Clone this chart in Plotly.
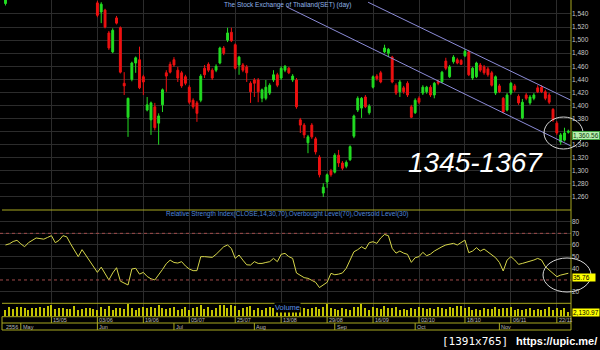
import plotly.graph_objects as go

# ---------------- data ----------------
open_ = [1556, 1568, 1578, 1590, 1598, 1585, 1575, 1594, 1606, 1618, 1612, 1610, 1628, 1640, 1620, 1630, 1646, 1638, 1612, 1594,
         1580, 1598, 1586, 1574, 1557, 1543, 1546, 1511, 1482, 1534, 1519, 1434, 1382, 1440, 1465, 1470, 1444, 1393, 1378, 1398,
         1373, 1401, 1450, 1463, 1470, 1454, 1450, 1444, 1428, 1408, 1404, 1408, 1457, 1463, 1454, 1454, 1465, 1488, 1500, 1512,
         1493, 1462, 1462, 1459, 1434, 1439, 1439, 1411, 1411, 1419, 1439, 1447, 1442, 1454, 1457, 1439, 1439, 1378, 1370, 1343,
         1370, 1349, 1321, 1266, 1283, 1300, 1298, 1324, 1312, 1307, 1317, 1353, 1393, 1396, 1413, 1389, 1428, 1445, 1450, 1482,
         1480, 1474, 1431, 1421, 1427, 1434, 1398, 1389, 1411, 1419, 1421, 1428, 1416, 1437, 1436, 1468, 1444, 1467, 1470, 1469,
         1476, 1482, 1442, 1444, 1462, 1459, 1456, 1450, 1419, 1430, 1411, 1393, 1419, 1430, 1414, 1381, 1416, 1404, 1411, 1427,
         1428, 1421, 1416, 1394, 1373, 1344, 1347, 1359]
high = [1570, 1582, 1595, 1602, 1600, 1590, 1598, 1610, 1622, 1625, 1620, 1632, 1645, 1648, 1636, 1650, 1652, 1640, 1616, 1600,
        1604, 1600, 1590, 1580, 1560, 1558, 1548, 1514, 1518, 1537, 1521, 1451, 1412, 1467, 1475, 1490, 1447, 1413, 1406, 1404,
        1388, 1426, 1454, 1467, 1474, 1459, 1453, 1447, 1431, 1411, 1407, 1448, 1462, 1466, 1457, 1463, 1490, 1491, 1519, 1519,
        1495, 1476, 1465, 1462, 1437, 1442, 1442, 1426, 1439, 1434, 1454, 1450, 1460, 1462, 1459, 1448, 1442, 1381, 1373, 1355,
        1373, 1352, 1324, 1281, 1296, 1303, 1327, 1332, 1315, 1316, 1339, 1386, 1414, 1413, 1416, 1402, 1446, 1448, 1453, 1493,
        1488, 1476, 1434, 1439, 1430, 1437, 1401, 1411, 1414, 1431, 1430, 1431, 1436, 1439, 1453, 1473, 1462, 1477, 1473, 1471,
        1486, 1485, 1459, 1467, 1465, 1462, 1459, 1453, 1446, 1433, 1413, 1419, 1436, 1433, 1417, 1410, 1419, 1416, 1419, 1431,
        1431, 1424, 1419, 1396, 1376, 1358, 1366, 1363]
low = [1553, 1565, 1574, 1582, 1580, 1570, 1572, 1590, 1600, 1606, 1602, 1608, 1622, 1615, 1614, 1626, 1630, 1608, 1590, 1575,
       1578, 1582, 1570, 1566, 1535, 1526, 1518, 1485, 1480, 1524, 1449, 1416, 1352, 1437, 1450, 1425, 1416, 1391, 1355, 1362,
       1340, 1390, 1421, 1449, 1459, 1436, 1427, 1431, 1402, 1395, 1375, 1405, 1442, 1451, 1439, 1451, 1463, 1477, 1497, 1497,
       1455, 1447, 1451, 1436, 1404, 1413, 1405, 1405, 1408, 1416, 1436, 1428, 1439, 1451, 1448, 1436, 1395, 1358, 1350, 1327,
       1349, 1325, 1290, 1260, 1274, 1291, 1296, 1306, 1301, 1304, 1315, 1350, 1390, 1381, 1396, 1386, 1426, 1438, 1434, 1480,
       1474, 1434, 1416, 1413, 1418, 1413, 1381, 1387, 1402, 1416, 1418, 1413, 1411, 1431, 1434, 1454, 1442, 1464, 1463, 1462,
       1474, 1445, 1439, 1442, 1451, 1447, 1444, 1429, 1416, 1419, 1388, 1391, 1416, 1421, 1401, 1379, 1408, 1401, 1408, 1419,
       1419, 1408, 1402, 1375, 1355, 1340, 1345, 1357]
close = [1566, 1578, 1590, 1598, 1585, 1575, 1594, 1606, 1618, 1612, 1610, 1628, 1640, 1620, 1630, 1646, 1638, 1612, 1594, 1580,
         1598, 1586, 1574, 1570, 1538, 1555, 1520, 1488, 1515, 1526, 1451, 1430, 1411, 1465, 1473, 1427, 1436, 1401, 1404, 1366,
         1384, 1424, 1445, 1451, 1462, 1442, 1430, 1434, 1405, 1398, 1388, 1445, 1447, 1454, 1442, 1460, 1488, 1480, 1511, 1499,
         1457, 1474, 1454, 1450, 1421, 1434, 1421, 1424, 1428, 1431, 1447, 1431, 1457, 1460, 1450, 1445, 1398, 1370, 1355, 1352,
         1352, 1329, 1294, 1275, 1294, 1294, 1324, 1312, 1304, 1313, 1337, 1384, 1411, 1411, 1398, 1399, 1444, 1441, 1436, 1488,
         1486, 1436, 1419, 1436, 1421, 1416, 1382, 1408, 1405, 1428, 1428, 1416, 1434, 1434, 1451, 1457, 1459, 1474, 1465, 1463,
         1483, 1447, 1457, 1465, 1454, 1450, 1447, 1431, 1444, 1421, 1390, 1416, 1434, 1424, 1404, 1405, 1411, 1413, 1416, 1421,
         1421, 1411, 1405, 1378, 1358, 1355, 1358, 1360.56]
rsi = [60, 61, 63, 64, 61, 58.5, 62, 64, 66, 65.5, 65, 66.5, 68, 62, 64, 68, 67, 61, 55, 50,
       56, 51, 46, 41, 36.5, 41, 35, 30, 36, 40.5, 29, 27, 25.7, 39.4, 40, 35, 36.5, 33, 31, 30,
       34, 39, 44, 47, 45, 44.5, 45.7, 42, 39.4, 38, 38, 50, 50, 50, 49.4, 52, 55.7, 58.5, 60, 57,
       48.5, 51.4, 47, 43, 42.8, 45.7, 44.2, 44.2, 45, 45.7, 48.5, 45.7, 52, 52.8, 50, 48.5, 36, 34, 32, 31.4,
       30, 28, 23.5, 25.7, 28, 35.7, 34.5, 35, 36, 40, 47, 54.2, 56, 58.5, 56.5, 62, 62.8, 61.4, 66, 69,
       68, 57.1, 53, 54.8, 53, 52, 45.1, 49.1, 50, 53.7, 50.8, 52.2, 54.8, 57, 58.5, 60, 60.5, 61.4, 60, 62,
       64.2, 53.4, 54.8, 57.7, 54.8, 56.5, 54, 51.4, 49.1, 45, 37.7, 47, 50, 47.1, 43.4, 44.2, 45, 45.7, 47.1, 48.5,
       47.1, 41.4, 38.5, 35.7, 32.8, 34.2, 35.1, 35.76]
volume = [3580, 4830, 3940, 4830, 4830, 4300, 3580, 4300, 4300, 4830, 4300, 5730, 6090, 3940, 4300, 4300, 3940, 3940, 5370, 3580,
          3940, 4300, 4300, 3940, 3580, 4830, 3940, 5370, 3580, 4300, 4300, 3940, 6620, 4300, 3580, 4300, 4830, 4300, 4830, 4300,
          6090, 4300, 3940, 4300, 4830, 3580, 3940, 4830, 3580, 4300, 4830, 6090, 3940, 4830, 3580, 4300, 6090, 6090, 4300, 6090,
          5370, 3580, 4300, 4830, 5370, 3580, 4300, 3580, 4300, 4830, 4300, 5730, 4300, 3940, 4830, 3940, 3940, 4830, 4300, 3940,
          4300, 4830, 3940, 4830, 6900, 4300, 3940, 3580, 4300, 3940, 3580, 4830, 4830, 6620, 4300, 3580, 4830, 4300, 3940, 5730,
          4300, 4300, 4830, 3580, 3940, 3580, 4300, 3940, 4830, 4300, 3940, 4300, 3940, 4830, 4300, 3940, 4830, 4300, 5370, 5730,
          4300, 4830, 3580, 3940, 3580, 4300, 3940, 3940, 4830, 3940, 4300, 4300, 4830, 3580, 3940, 3580, 3940, 4300, 3580, 3940,
          3580, 3940, 4830, 3580, 4300, 3580, 4300, 2130.97]
bars = list(range(len(close)))

date_ticks = [12, 24, 36, 48, 60, 72, 84, 96, 108, 120, 132, 144]
date_labels = ["15/05", "03/06", "19/06", "05/07", "25/07", "13/08", "29/08", "16/09", "02/10", "18/10", "06/11", "22/11"]
month_starts = [4, 24, 44, 65, 86, 107, 129]
month_labels = ["May", "Jun", "Jul", "Aug", "Sep", "Oct", "Nov"]
year_label = "2556"
price_ticks = list(range(1260, 1541, 20))
price_hidden = [1360]          # tick covered by the last-price box
rsi_ticks = [20, 40, 50, 60, 70, 80]
overbought, oversold = 70, 30
channel_upper_x, channel_upper_y = [94.7, 147.7], [1558, 1408]
channel_lower_x, channel_lower_y = [73.4, 147.7], [1551, 1338]
target_text = "1345-1367"

# ---------------- style ----------------
GREEN, RED = "#22dd22", "#ee1111"
YEL = "#a8a820"
GRID = "#2c2c2c"
FONT = "Liberation Sans, Arial, sans-serif"
PLOT_W, PLOT_H = 571, 330


def py(px):  # pixel row -> paper y
    return (PLOT_H - px) / PLOT_H


def pxx(px):  # pixel col -> paper x
    return px / PLOT_W


fig = go.Figure()
fig.add_trace(go.Candlestick(
    x=bars, open=open_, high=high, low=low, close=close, xaxis="x", yaxis="y",
    increasing=dict(line=dict(color=GREEN, width=1), fillcolor=GREEN),
    decreasing=dict(line=dict(color=RED, width=1), fillcolor=RED),
    whiskerwidth=0, showlegend=False, hoverinfo="skip"))
for cx, cy in [(channel_upper_x, channel_upper_y), (channel_lower_x, channel_lower_y)]:
    fig.add_trace(go.Scatter(x=cx, y=cy, mode="lines", xaxis="x", yaxis="y",
                             line=dict(color="#8c8cd8", width=1), showlegend=False, hoverinfo="skip"))
fig.add_trace(go.Scatter(x=bars, y=rsi, mode="lines", xaxis="x", yaxis="y2",
                         line=dict(color="#d6d64a", width=1), showlegend=False, hoverinfo="skip"))
fig.add_trace(go.Bar(x=bars, y=volume, xaxis="x", yaxis="y3", width=0.32,
                     marker=dict(color="#c4c400", line=dict(width=0)), showlegend=False, hoverinfo="skip"))

axis_font = dict(family=FONT, size=6.5, color="#c8c8c8")
price_text = ["" if v in price_hidden else f"{v:,}" for v in price_ticks]
fig.update_layout(
    width=600, height=350,
    margin=dict(l=0, r=600 - PLOT_W, t=0, b=350 - PLOT_H),
    paper_bgcolor="#000000", plot_bgcolor="#000000",
    showlegend=False, bargap=0,
    xaxis=dict(domain=[0, 1], range=[-1.436, 147.7], anchor="y3", tickvals=date_ticks,
               showticklabels=False, showgrid=True, gridcolor=GRID, gridwidth=1,
               zeroline=False, showline=False, ticks="", rangeslider=dict(visible=False)),
    yaxis=dict(domain=[py(210), 1], range=[1240.1, 1561.4], side="right", anchor="x",
               tickvals=price_ticks, ticktext=price_text, tickfont=axis_font, ticks="",
               showgrid=True, gridcolor=GRID, zeroline=False, showline=False),
    yaxis2=dict(domain=[py(303.3), py(210)], range=[10, 90], side="right", anchor="x",
                tickvals=rsi_ticks, tickfont=axis_font, ticks="",
                showgrid=True, gridcolor=GRID, zeroline=False, showline=False),
    yaxis3=dict(domain=[py(316.7), py(303.3)], range=[0, 7200], side="right", anchor="x",
                showticklabels=False, showgrid=False, zeroline=False, showline=False),
)

shapes = []
for lvl in (overbought, oversold):
    shapes.append(dict(type="line", xref="paper", yref="y2", x0=0, x1=1, y0=lvl, y1=lvl,
                       line=dict(color="#a04a4a", width=1, dash="3px,3px")))
for ypx in (210, 303.3, 316.7, 323, 330):
    shapes.append(dict(type="line", xref="paper", yref="paper", x0=pxx(2), x1=1,
                       y0=py(ypx), y1=py(ypx), line=dict(color=YEL, width=1)))
shapes.append(dict(type="line", xref="paper", yref="paper", x0=1, x1=1, y0=0, y1=1,
                   line=dict(color=YEL, width=1)))
shapes.append(dict(type="line", xref="paper", yref="paper", x0=pxx(2), x1=pxx(2),
                   y0=py(330), y1=py(316.7), line=dict(color=YEL, width=1)))
for t in date_ticks:
    shapes.append(dict(type="line", xref="x", yref="paper", x0=t, x1=t, y0=py(323), y1=py(316.7),
                       line=dict(color=YEL, width=1)))
for m in month_starts:
    shapes.append(dict(type="line", xref="x", yref="paper", x0=m, x1=m, y0=py(330), y1=py(323),
                       line=dict(color=YEL, width=1)))
shapes.append(dict(type="circle", xref="paper", yref="paper", x0=pxx(544), x1=pxx(583),
                   y0=py(149), y1=py(117), line=dict(color="#d8d8d8", width=1)))
shapes.append(dict(type="circle", xref="paper", yref="paper", x0=pxx(543), x1=pxx(591),
                   y0=py(292), y1=py(258), line=dict(color="#d8d8d8", width=1)))
fig.update_layout(shapes=shapes)

ann = []
small = dict(family=FONT, size=5.5, color="#b8b8b8")
for t, lab in zip(date_ticks, date_labels):
    ann.append(dict(x=t, y=py(319.9), xref="x", yref="paper", text=lab, showarrow=False,
                    xanchor="left", yanchor="middle", xshift=1, borderpad=0, font=small))
for m, lab in zip(month_starts, month_labels):
    ann.append(dict(x=m, y=py(326.6), xref="x", yref="paper", text=lab, showarrow=False,
                    xanchor="left", yanchor="middle", xshift=1, borderpad=0, font=small))
ann.append(dict(x=pxx(5), y=py(326.6), xref="paper", yref="paper", text=year_label, showarrow=False,
                xanchor="left", yanchor="middle", borderpad=0, font=small))
ann.append(dict(x=pxx(287), y=py(5), xref="paper", yref="paper", xanchor="center", yanchor="middle",
                text="The Stock Exchange of Thailand(SET) (day)", showarrow=False,
                font=dict(family=FONT, size=6.5, color="#90b4e8")))
ann.append(dict(x=pxx(287), y=py(214), xref="paper", yref="paper", xanchor="center", yanchor="middle",
                text="Relative Strength Index(CLOSE,14,30,70),Overbought Level(70),Oversold Level(30)",
                showarrow=False, font=dict(family=FONT, size=6.5, color="#5088dc")))
ann.append(dict(x=pxx(287), y=py(307.5), xref="paper", yref="paper", xanchor="center", yanchor="middle",
                text="Volume", showarrow=False, borderpad=0, bgcolor="#000000",
                font=dict(family=FONT, size=7.5, color="#5a90e6")))
ann.append(dict(x=pxx(572), y=py(135.5), xref="paper", yref="paper", xanchor="left", yanchor="middle",
                text=f"{close[-1]:,.2f}", showarrow=False, bgcolor="#b8f0b0", bordercolor="#40a040",
                borderwidth=1, borderpad=0, font=dict(family=FONT, size=6.5, color="#104010")))
ann.append(dict(x=pxx(572), y=py(277), xref="paper", yref="paper", xanchor="left", yanchor="middle",
                text=f"{rsi[-1]:.2f}&nbsp;&nbsp;&nbsp;", showarrow=False, bgcolor="#ffff00",
                borderpad=0, font=dict(family=FONT, size=6.5, color="#000000")))
ann.append(dict(x=pxx(572), y=py(312), xref="paper", yref="paper", xanchor="left", yanchor="middle",
                text=f"{volume[-1]:,.2f}", showarrow=False, bgcolor="#ffff00",
                borderpad=0, font=dict(family=FONT, size=6.5, color="#000000")))
ann.append(dict(x=pxx(475), y=py(162.5), xref="paper", yref="paper", xanchor="center", yanchor="middle",
                text=target_text, showarrow=False,
                font=dict(family=FONT, size=28, color="#ffffff", style="italic")))
ann.append(dict(x=pxx(441), y=py(341), xref="paper", yref="paper", xanchor="left", yanchor="middle",
                text="[1391x765]", showarrow=False, borderpad=0,
                font=dict(family="DejaVu Sans Mono, monospace", size=11, color="#ffffff")))
ann.append(dict(x=pxx(598), y=py(341), xref="paper", yref="paper", xanchor="right", yanchor="middle",
                text="https://upic.me/", showarrow=False, borderpad=0,
                font=dict(family=FONT, size=11, color="#ffffff", weight="bold")))
fig.update_layout(annotations=ann)

fig.write_html("out.html")
